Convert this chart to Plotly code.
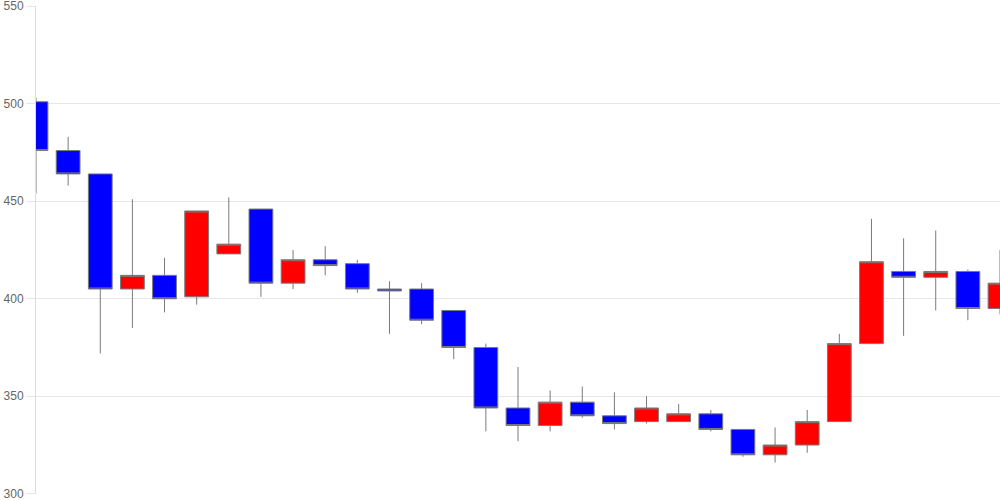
import plotly.graph_objects as go

days = list(range(31))
opens  = [501, 476, 464, 405, 412, 401, 423, 446, 408, 420, 418, 405, 405, 394, 375, 344,
          335, 347, 340, 337, 337, 341, 333, 320, 325, 337, 377, 414, 411, 414, 395]
closes = [476, 464, 405, 412, 400, 445, 428, 408, 420, 417, 405, 404, 389, 375, 344, 335,
          347, 340, 336, 344, 341, 333, 320, 325, 337, 377, 419, 411, 414, 395, 408]
highs  = [503, 483, 464, 451, 421, 445, 452, 446, 425, 427, 420, 409, 408, 394, 377, 365,
          353, 355, 352, 350, 346, 343, 333, 334, 343, 382, 441, 431, 435, 415, 425]
lows   = [454, 458, 372, 385, 393, 397, 423, 401, 405, 412, 403, 382, 387, 369, 332, 327,
          332, 339, 333, 336, 337, 332, 319, 316, 321, 337, 377, 381, 394, 389, 392]
y_ticks = [300, 350, 400, 450, 500, 550]

fig = go.Figure(go.Candlestick(
    x=days, open=opens, high=highs, low=lows, close=closes,
    increasing=dict(fillcolor="#ff0000", line=dict(color="#7a7a7a", width=1)),
    decreasing=dict(fillcolor="#0000ff", line=dict(color="#7a7a7a", width=1)),
    whiskerwidth=0,
    showlegend=False,
))

fig.update_layout(
    width=1000, height=500,
    margin=dict(l=36, r=0, t=6, b=6),
    paper_bgcolor="white", plot_bgcolor="white",
    boxgap=0.26, boxgroupgap=0,
    font=dict(family="Liberation Sans, Arial, sans-serif", size=12, color="#666666"),
    xaxis=dict(range=[0, 30], visible=False, rangeslider=dict(visible=False), fixedrange=True),
    yaxis=dict(range=[299.9, 550.1], tickvals=y_ticks, showgrid=True, gridcolor="#e6e6e6",
               gridwidth=1, zeroline=False, showline=True, linecolor="#dddddd", linewidth=1,
               ticks="outside", ticklen=9, tickcolor="#e6e6e6", automargin=False,
               ticklabeloverflow="allow", fixedrange=True,
               tickfont=dict(size=12, color="#666666")),
)

fig.write_html("out.html", config={"displayModeBar": False},
               post_script="document.body.style.margin='0';document.body.style.overflow='hidden';")
